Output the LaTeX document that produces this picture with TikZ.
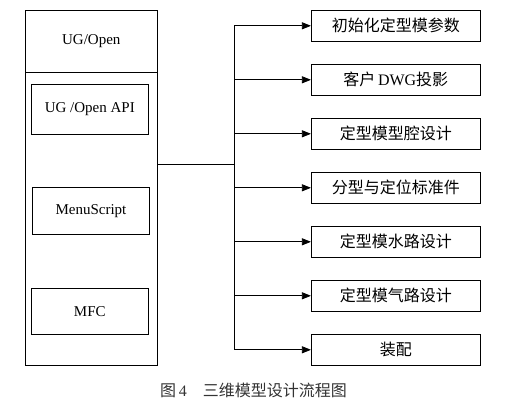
\documentclass[tikz,border=0pt]{standalone}
\usepackage{fontspec}
\setmainfont{Liberation Serif}
\newfontfamily\cjk{Noto Sans CJK SC}
\usetikzlibrary{arrows.meta}
\begin{document}
\begin{tikzpicture}[x=1pt, y=-1pt, line width=0.8pt,
    box/.style={draw, inner sep=0pt, font=\fontsize{15}{18}\selectfont},
    mod/.style={box, minimum width=117pt},
    stp/.style={box, minimum width=169pt, minimum height=31pt, font=\fontsize{16}{18}\selectfont\cjk},
    arr/.style={-{Triangle[length=9pt,width=7pt]}}]
    \useasboundingbox (0,0) rectangle (506,404);
    \node[box, minimum width=132pt, minimum height=62pt] (ugo) at (91.3,41.3) {UG/Open};
    \node[box, minimum width=132pt, minimum height=293pt] (lib) at ([shift={(0,177.5)}] ugo) {};
    \node[mod, minimum height=50pt] (api) at ([shift={(-1.5,68)}]    ugo) {UG /Open API};
    \node[mod, minimum height=47pt] (mnu) at ([shift={(1.2,101.5)}]  api) {MenuScript};
    \node[mod, minimum height=46pt] (mfc) at ([shift={(-1.2,100.5)}] mnu) {MFC};
    \node[stp] (ini) at (395.8,25.8)            {初始化定型模参数};
    \node[stp] (dwg) at ([shift={(0,54)}] ini) {客户{\rmfamily\,DWG}投影};
    \node[stp] (cav) at ([shift={(0,54)}] dwg) {定型模型腔设计};
    \node[stp] (par) at ([shift={(0,54)}] cav) {分型与定位标准件};
    \node[stp] (wat) at ([shift={(0,54)}] par) {定型模水路设计};
    \node[stp] (gas) at ([shift={(0,54)}] wat) {定型模气路设计};
    \node[stp] (asm) at ([shift={(0,54)}] gas) {装配};
    \coordinate (jun) at (234.3,164.3);
    \draw (lib.east |- jun) -- (jun);
    \draw (jun |- ini) -- (jun |- asm);
    \foreach \n in {ini,dwg,cav,par,wat,gas,asm}
      \draw[arr] (jun |- \n) -- (\n);
    \node[font=\fontsize{16}{18}\selectfont, text=black!80] (cap) at (253.5,390)
      {{\cjk 图}\,4\quad{\cjk 三维模型设计流程图}};
  \end{tikzpicture}
\end{document}
